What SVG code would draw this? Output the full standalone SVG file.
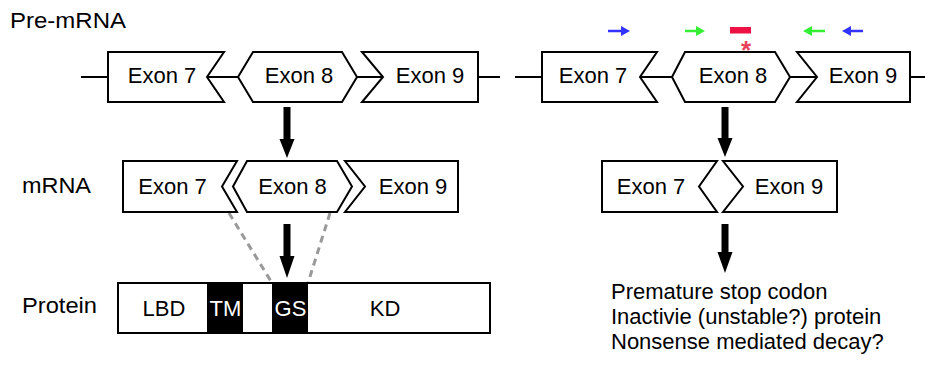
<svg xmlns="http://www.w3.org/2000/svg" width="925" height="366" viewBox="0 0 925 366">
<defs>
<style>
.ex{fill:#fff;stroke:#000;stroke-width:2;stroke-linejoin:miter}
.ln{stroke:#000;stroke-width:2;fill:none}
.t{font-family:"Liberation Sans",Arial,sans-serif;font-size:22px;fill:#000}
.c{text-anchor:middle}
.w{fill:#fff}
.ar{fill:#000}
.dash{stroke:#999;stroke-width:3;stroke-dasharray:7,5;fill:none}
</style>
</defs>
<g id="labels">
<text class="t" x="10" y="28" textLength="116" lengthAdjust="spacingAndGlyphs">Pre-mRNA</text>
<text class="t" x="22" y="193" textLength="69" lengthAdjust="spacingAndGlyphs">mRNA</text>
<text class="t" x="22" y="313" textLength="75" lengthAdjust="spacingAndGlyphs">Protein</text>
</g>
<g id="connectors">
<line class="ln" x1="81" y1="77" x2="108" y2="77"/>
<line class="ln" x1="207" y1="77" x2="238" y2="77"/>
<line class="ln" x1="357" y1="77" x2="383" y2="77"/>
<line class="ln" x1="478" y1="77" x2="500" y2="77"/>
<line class="ln" x1="515" y1="77" x2="542" y2="77"/>
<line class="ln" x1="640" y1="77" x2="672" y2="77"/>
<line class="ln" x1="790" y1="77" x2="817" y2="77"/>
<line class="ln" x1="910" y1="77" x2="925" y2="77"/>
<line class="dash" x1="229" y1="213" x2="272" y2="283"/>
<line class="dash" x1="330" y1="213" x2="308" y2="283"/>
<polygon class="ar" points="283.5,107 290.5,107 290.5,139 294.5,139 287,158 279.5,139 283.5,139"/>
<polygon class="ar" points="283.5,224 290.5,224 290.5,256 294.5,256 287,278 279.5,256 283.5,256"/>
<polygon class="ar" points="721.5,107 728.5,107 728.5,138 732.5,138 725,157 717.5,138 721.5,138"/>
<polygon class="ar" points="721.5,224 728.5,224 728.5,252 732.5,252 725,273 717.5,252 721.5,252"/>
</g>
<g id="premrna-left">
<g id="pre-exon7-l"><polygon class="ex" points="108,52 224,52 207,77 224,102 108,102"/><text class="t c" x="162" y="83">Exon 7</text></g>
<g id="pre-exon8-l"><polygon class="ex" points="238,77 253,52 342,52 357,77 342,102 253,102"/><text class="t c" x="299" y="83">Exon 8</text></g>
<g id="pre-exon9-l"><polygon class="ex" points="362,52 478,52 478,102 362,102 383,77"/><text class="t c" x="430" y="83">Exon 9</text></g>
</g>
<g id="premrna-right">
<g id="pre-exon7-r"><polygon class="ex" points="542,52 657,52 640,77 657,102 542,102"/><text class="t c" x="593" y="83">Exon 7</text></g>
<g id="pre-exon8-r"><polygon class="ex" points="672,77 685,52 775,52 790,77 775,102 685,102"/><text class="t c" x="733" y="83">Exon 8</text></g>
<g id="pre-exon9-r"><polygon class="ex" points="797,52 910,52 910,102 797,102 817,77"/><text class="t c" x="863" y="83">Exon 9</text></g>
</g>
<g id="primers">
<line x1="608" y1="31" x2="622" y2="31" stroke="#3333ff" stroke-width="2.5"/>
<polygon points="630,31 621,26 621,36" fill="#3333ff"/>
<line x1="685" y1="31" x2="697" y2="31" stroke="#33ee33" stroke-width="2.5"/>
<polygon points="705,31 696,26 696,36" fill="#33ee33"/>
<rect x="730" y="27" width="21" height="6.5" fill="#ee1144"/>
<text x="746" y="59" font-family="Liberation Sans,Arial,sans-serif" font-size="26" font-weight="bold" fill="#e8415a" text-anchor="middle">*</text>
<line x1="825" y1="31" x2="811" y2="31" stroke="#33ee33" stroke-width="2.5"/>
<polygon points="803,31 812,26 812,36" fill="#33ee33"/>
<line x1="863" y1="31" x2="850" y2="31" stroke="#3333ff" stroke-width="2.5"/>
<polygon points="842,31 851,26 851,36" fill="#3333ff"/>
</g>
<g id="mrna-left">
<g id="m-exon7-l"><polygon class="ex" points="123,161 237,161 222,186.5 237,212 123,212"/><text class="t c" x="172.5" y="194">Exon 7</text></g>
<g id="m-exon8-l"><polygon class="ex" points="233,186.5 247,161 337,161 352,186.5 337,212 247,212"/><text class="t c" x="292.5" y="194">Exon 8</text></g>
<g id="m-exon9-l"><polygon class="ex" points="345,161 458,161 458,212 345,212 365,186.5"/><text class="t c" x="413" y="194">Exon 9</text></g>
</g>
<g id="mrna-right">
<g id="m-exon7-r"><polygon class="ex" points="602,161 717,161 699,186.5 717,212 602,212"/><text class="t c" x="651" y="194">Exon 7</text></g>
<g id="m-exon9-r"><polygon class="ex" points="723,161 837,161 837,212 723,212 743,186.5"/><text class="t c" x="789" y="194">Exon 9</text></g>
</g>
<g id="protein">
<rect class="ex" x="118" y="283" width="372" height="50"/>
<rect x="207" y="284" width="36" height="48" fill="#000"/>
<rect x="272" y="284" width="36" height="48" fill="#000"/>
<text class="t c" x="164" y="316">LBD</text>
<text class="t c w" x="225.5" y="316">TM</text>
<text class="t c w" x="290.5" y="316">GS</text>
<text class="t c" x="385" y="316">KD</text>
</g>
<g id="outcome">
<text class="t" x="611" y="299">Premature stop codon</text>
<text class="t" x="611" y="324">Inactivie (unstable?) protein</text>
<text class="t" x="611" y="349">Nonsense mediated decay?</text>
</g>
</svg>
